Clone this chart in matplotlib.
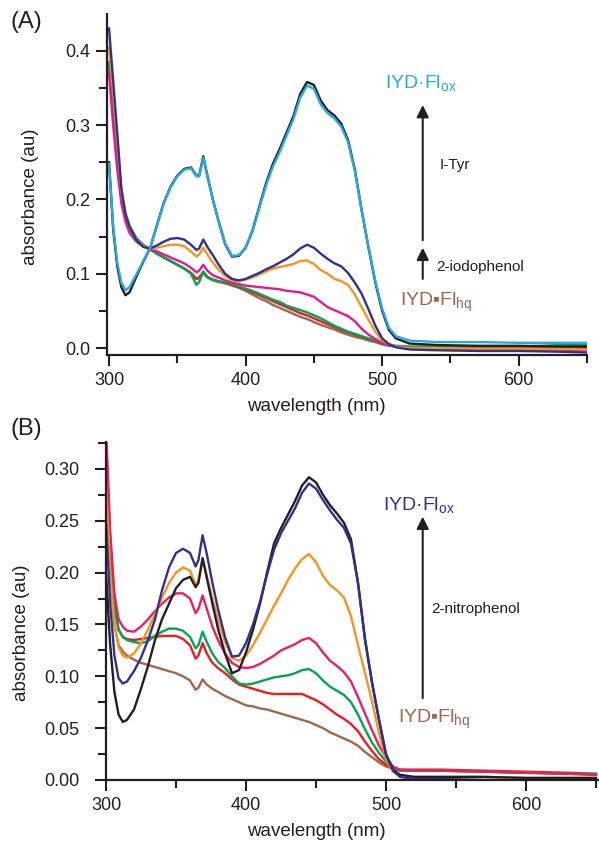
import matplotlib
matplotlib.use('Agg')
import matplotlib.pyplot as plt
from matplotlib.ticker import MultipleLocator, FormatStrFormatter

plt.rcParams['font.family'] = ['Liberation Sans', 'DejaVu Sans']
plt.rcParams['mathtext.fontset'] = 'custom'
plt.rcParams['mathtext.rm'] = 'Liberation Sans'
plt.rcParams['mathtext.default'] = 'regular'

# wavelength grid (nm) shared by both panels
wavelength = [300, 303, 306, 309, 312, 315, 320, 325, 330, 335, 340, 345, 350, 355, 360,
              364, 366, 369, 372, 376, 380, 385, 390, 395, 400, 405, 410, 415, 420, 425,
              430, 435, 440, 445, 450, 455, 460, 465, 470, 475, 480, 485, 490, 495, 500,
              505, 510, 520, 540, 570, 600, 630, 650]

# ---- panel A: 2-iodophenol then I-Tyr ----
a_brown = [0.375, 0.315, 0.255, 0.205, 0.178, 0.162, 0.146, 0.138, 0.133, 0.127, 0.122, 0.117, 0.112, 0.107, 0.101,
           0.093, 0.094, 0.101, 0.095, 0.091, 0.089, 0.087, 0.084, 0.081, 0.077, 0.072, 0.067, 0.063, 0.058, 0.054,
           0.050, 0.046, 0.042, 0.039, 0.035, 0.031, 0.028, 0.025, 0.021, 0.018, 0.015, 0.013, 0.010, 0.008, 0.005,
           0.003, 0.002, 0.001, 0.000, 0.000, 0.000, 0.000, 0.000]
a_red = [0.380, 0.320, 0.260, 0.207, 0.180, 0.163, 0.147, 0.138, 0.133, 0.127, 0.122, 0.117, 0.112, 0.107, 0.101,
         0.093, 0.095, 0.102, 0.096, 0.092, 0.090, 0.088, 0.085, 0.082, 0.079, 0.075, 0.071, 0.067, 0.063, 0.059,
         0.055, 0.051, 0.047, 0.044, 0.040, 0.036, 0.032, 0.028, 0.024, 0.021, 0.018, 0.015, 0.012, 0.009, 0.006,
         0.004, 0.002, 0.001, 0.001, 0.001, 0.000, 0.000, 0.000]
a_green = [0.385, 0.325, 0.265, 0.210, 0.182, 0.165, 0.148, 0.139, 0.133, 0.127, 0.122, 0.117, 0.112, 0.107, 0.100,
           0.085, 0.089, 0.103, 0.095, 0.092, 0.090, 0.088, 0.086, 0.083, 0.080, 0.077, 0.073, 0.069, 0.065, 0.062,
           0.057, 0.054, 0.051, 0.048, 0.044, 0.040, 0.035, 0.030, 0.026, 0.022, 0.019, 0.016, 0.013, 0.010, 0.007,
           0.005, 0.003, 0.002, 0.002, 0.002, 0.002, 0.004, 0.004]
a_magenta = [0.370, 0.300, 0.240, 0.195, 0.170, 0.155, 0.143, 0.137, 0.133, 0.130, 0.126, 0.122, 0.118, 0.114, 0.108,
             0.102, 0.104, 0.112, 0.104, 0.098, 0.095, 0.091, 0.088, 0.086, 0.084, 0.083, 0.082, 0.081, 0.080, 0.079,
             0.077, 0.076, 0.075, 0.072, 0.069, 0.062, 0.055, 0.051, 0.047, 0.043, 0.036, 0.026, 0.018, 0.012, 0.007,
             0.004, 0.002, 0.000, -0.001, -0.001, -0.002, -0.002, -0.003]
a_orange = [0.405, 0.345, 0.280, 0.212, 0.180, 0.163, 0.145, 0.137, 0.134, 0.135, 0.137, 0.139, 0.139, 0.137, 0.130,
            0.123, 0.126, 0.135, 0.126, 0.115, 0.106, 0.097, 0.091, 0.090, 0.092, 0.095, 0.099, 0.103, 0.107, 0.109,
            0.111, 0.113, 0.117, 0.118, 0.113, 0.105, 0.100, 0.093, 0.090, 0.085, 0.072, 0.055, 0.038, 0.022, 0.010,
            0.005, 0.002, 0.000, 0.000, -0.001, -0.001, -0.001, -0.002]
a_navy = [0.430, 0.360, 0.290, 0.215, 0.180, 0.163, 0.145, 0.136, 0.134, 0.138, 0.143, 0.147, 0.148, 0.146, 0.139,
          0.132, 0.134, 0.146, 0.136, 0.125, 0.113, 0.100, 0.093, 0.091, 0.093, 0.097, 0.101, 0.106, 0.110, 0.115,
          0.120, 0.126, 0.134, 0.139, 0.135, 0.127, 0.120, 0.114, 0.110, 0.101, 0.088, 0.073, 0.052, 0.030, 0.013,
          0.005, 0.001, -0.002, -0.003, -0.004, -0.004, -0.005, -0.006]
a_black = [0.250, 0.160, 0.110, 0.082, 0.071, 0.075, 0.096, 0.116, 0.134, 0.165, 0.195, 0.217, 0.232, 0.241, 0.243,
           0.232, 0.232, 0.258, 0.232, 0.200, 0.172, 0.140, 0.123, 0.124, 0.135, 0.158, 0.190, 0.222, 0.248, 0.268,
           0.290, 0.312, 0.342, 0.358, 0.354, 0.333, 0.320, 0.313, 0.302, 0.280, 0.240, 0.185, 0.135, 0.088, 0.050,
           0.024, 0.013, 0.006, 0.004, 0.003, 0.003, 0.002, 0.002]
a_blue = [0.248, 0.165, 0.115, 0.088, 0.078, 0.082, 0.099, 0.117, 0.134, 0.164, 0.194, 0.216, 0.231, 0.240, 0.242,
          0.231, 0.231, 0.256, 0.231, 0.200, 0.172, 0.141, 0.124, 0.125, 0.135, 0.157, 0.188, 0.219, 0.244, 0.264,
          0.286, 0.308, 0.337, 0.353, 0.349, 0.328, 0.316, 0.309, 0.298, 0.277, 0.238, 0.185, 0.136, 0.090, 0.053,
          0.027, 0.016, 0.010, 0.008, 0.008, 0.007, 0.007, 0.007]

# ---- panel B: 2-nitrophenol ----
b_brown = [0.300, 0.200, 0.150, 0.130, 0.124, 0.120, 0.116, 0.113, 0.111, 0.109, 0.107, 0.105, 0.103, 0.100, 0.096,
           0.087, 0.089, 0.097, 0.092, 0.088, 0.085, 0.081, 0.078, 0.075, 0.072, 0.071, 0.069, 0.068, 0.066, 0.064,
           0.062, 0.060, 0.058, 0.056, 0.053, 0.050, 0.046, 0.043, 0.040, 0.037, 0.033, 0.027, 0.022, 0.017, 0.013,
           0.011, 0.009, 0.009, 0.009, 0.008, 0.007, 0.006, 0.005]
b_red = [0.330, 0.230, 0.170, 0.145, 0.138, 0.136, 0.135, 0.136, 0.137, 0.138, 0.139, 0.139, 0.139, 0.136, 0.130,
         0.117, 0.120, 0.132, 0.122, 0.113, 0.108, 0.103, 0.097, 0.092, 0.090, 0.088, 0.086, 0.084, 0.083, 0.083,
         0.083, 0.083, 0.083, 0.080, 0.077, 0.073, 0.068, 0.063, 0.059, 0.054, 0.047, 0.037, 0.028, 0.020, 0.015,
         0.011, 0.010, 0.010, 0.010, 0.009, 0.008, 0.007, 0.006]
b_green = [0.310, 0.220, 0.165, 0.145, 0.138, 0.135, 0.133, 0.132, 0.134, 0.139, 0.143, 0.146, 0.146, 0.144, 0.138,
           0.127, 0.130, 0.143, 0.133, 0.122, 0.114, 0.108, 0.100, 0.093, 0.092, 0.093, 0.095, 0.097, 0.099, 0.100,
           0.101, 0.103, 0.106, 0.107, 0.103, 0.096, 0.090, 0.086, 0.082, 0.075, 0.063, 0.049, 0.036, 0.026, 0.018,
           0.012, 0.009, 0.009, 0.009, 0.008, 0.007, 0.006, 0.006]
b_magenta = [0.340, 0.240, 0.180, 0.155, 0.148, 0.144, 0.143, 0.148, 0.155, 0.163, 0.170, 0.176, 0.180, 0.180, 0.175,
             0.161, 0.165, 0.178, 0.165, 0.148, 0.135, 0.122, 0.113, 0.109, 0.108, 0.109, 0.112, 0.116, 0.120, 0.125,
             0.128, 0.131, 0.135, 0.137, 0.132, 0.123, 0.115, 0.110, 0.104, 0.095, 0.080, 0.064, 0.048, 0.033, 0.022,
             0.013, 0.010, 0.009, 0.009, 0.008, 0.007, 0.006, 0.005]
b_orange = [0.285, 0.200, 0.150, 0.128, 0.120, 0.118, 0.122, 0.132, 0.145, 0.160, 0.176, 0.190, 0.200, 0.205, 0.202,
            0.188, 0.193, 0.213, 0.197, 0.175, 0.155, 0.133, 0.118, 0.115, 0.120, 0.130, 0.142, 0.155, 0.168, 0.180,
            0.193, 0.204, 0.213, 0.218, 0.210, 0.197, 0.188, 0.183, 0.176, 0.158, 0.130, 0.103, 0.076, 0.045, 0.020,
            0.008, 0.004, 0.003, 0.003, 0.003, 0.002, 0.002, 0.002]
b_black = [0.200, 0.130, 0.085, 0.063, 0.056, 0.058, 0.068, 0.088, 0.110, 0.135, 0.155, 0.170, 0.185, 0.193, 0.196,
           0.186, 0.190, 0.214, 0.195, 0.170, 0.146, 0.122, 0.103, 0.106, 0.123, 0.145, 0.170, 0.200, 0.228, 0.243,
           0.256, 0.269, 0.284, 0.292, 0.287, 0.275, 0.265, 0.257, 0.248, 0.232, 0.190, 0.135, 0.094, 0.058, 0.025,
           0.010, 0.005, 0.003, 0.003, 0.003, 0.002, 0.002, 0.002]
b_navy = [0.250, 0.170, 0.120, 0.098, 0.093, 0.095, 0.105, 0.118, 0.135, 0.155, 0.183, 0.205, 0.219, 0.223, 0.219,
          0.206, 0.212, 0.236, 0.218, 0.190, 0.165, 0.138, 0.119, 0.120, 0.132, 0.150, 0.172, 0.198, 0.222, 0.238,
          0.250, 0.262, 0.277, 0.286, 0.281, 0.270, 0.260, 0.251, 0.243, 0.228, 0.190, 0.136, 0.094, 0.058, 0.024,
          0.009, 0.003, 0.001, 0.001, 0.000, 0.000, -0.001, -0.001]

c_black = '#231F20'
c_blue = '#27AAE1'
c_navy = '#2E3192'
c_orange = '#F7941D'
c_red = '#ED1C24'
c_green = '#00A651'
c_brown = '#A0674B'
c_magenta_a = '#E6198C'
c_magenta_b = '#EC1E63'

fig = plt.figure(figsize=(5.99, 8.42), dpi=100)
ax_a = fig.add_axes([107 / 599, 1 - 355 / 842, 480 / 599, 341 / 842])
ax_b = fig.add_axes([106 / 599, 1 - 780 / 842, 492 / 599, 338 / 842])

lw = 1.7
for y, c in [(a_brown, c_brown), (a_red, c_red), (a_green, c_green), (a_magenta, c_magenta_a),
             (a_orange, c_orange), (a_navy, c_navy), (a_black, c_black), (a_blue, c_blue)]:
    ax_a.plot(wavelength, y, color=c, lw=lw, solid_joinstyle='round')

for y, c in [(b_brown, c_brown), (b_red, c_red), (b_green, c_green), (b_magenta, c_magenta_b),
             (b_orange, c_orange), (b_black, c_black), (b_navy, c_navy)]:
    ax_b.plot(wavelength, y, color=c, lw=lw, solid_joinstyle='round')

ax_a.set_xlim(298.5, 650)
ax_a.set_ylim(-0.0094, 0.4495)
ax_b.set_xlim(300, 651.4)
ax_b.set_ylim(0, 0.326)

ax_a.yaxis.set_major_locator(MultipleLocator(0.1))
ax_a.yaxis.set_minor_locator(MultipleLocator(0.05))
ax_a.yaxis.set_major_formatter(FormatStrFormatter('%.1f'))
ax_b.yaxis.set_major_locator(MultipleLocator(0.05))
ax_b.yaxis.set_minor_locator(MultipleLocator(0.025))
ax_b.yaxis.set_major_formatter(FormatStrFormatter('%.2f'))

for ax in (ax_a, ax_b):
    ax.xaxis.set_major_locator(MultipleLocator(100))
    ax.xaxis.set_minor_locator(MultipleLocator(50))
    for s in ('top', 'right'):
        ax.spines[s].set_visible(False)
    for s in ('left', 'bottom'):
        ax.spines[s].set_linewidth(1.6)
        ax.spines[s].set_color(c_black)
    ax.tick_params(which='major', direction='out', length=8, width=1.5,
                   labelsize=13, colors=c_black, pad=4)
    ax.tick_params(which='minor', direction='out', length=5.5, width=1.5, colors=c_black)
    ax.set_xlabel('wavelength (nm)', fontsize=13.5, color=c_black)
    ax.set_ylabel('absorbance (au)', fontsize=13.5, color=c_black)

ax_b.tick_params(axis='y', which='major', pad=11)

ax_a.xaxis.set_label_coords(0.436, -0.126)
ax_a.xaxis.label.set_va('top')
ax_b.xaxis.set_label_coords(0.428, -0.127)
ax_b.xaxis.label.set_va('top')
ax_a.yaxis.set_label_coords(-0.142, 0.463)
ax_b.yaxis.set_label_coords(-0.154, 0.435)

# annotations panel A
ax_a.text(501.9, 0.357, 'IYD\u00b7Fl$_{ox}$', color=c_blue, fontsize=14, va='center', ha='left')
ax_a.text(512.9, 0.062, 'IYD\u25aaFl$_{hq}$', color=c_brown, fontsize=14, va='center', ha='left')
ax_a.text(542, 0.246, 'I-Tyr', color=c_black, fontsize=11, va='center', ha='left')
ax_a.text(539.7, 0.109, '2-iodophenol', color=c_black, fontsize=11, va='center', ha='left')
arrow = dict(arrowstyle='-|>', lw=1.5, color=c_black, mutation_scale=18, shrinkA=0, shrinkB=0)
ax_a.annotate('', xy=(529.7, 0.327), xytext=(529.7, 0.145), arrowprops=arrow)
ax_a.annotate('', xy=(529.7, 0.135), xytext=(529.7, 0.093), arrowprops=arrow)

# annotations panel B
ax_b.text(498, 0.265, 'IYD\u00b7Fl$_{ox}$', color=c_navy, fontsize=14, va='center', ha='left')
ax_b.text(508.8, 0.058, 'IYD\u25aaFl$_{hq}$', color=c_brown, fontsize=14, va='center', ha='left')
ax_b.text(532.6, 0.165, '2-nitrophenol', color=c_black, fontsize=11, va='center', ha='left')
ax_b.annotate('', xy=(526.2, 0.254), xytext=(526.2, 0.079), arrowprops=arrow)

fig.text(26 / 599, 1 - 22 / 842, '(A)', fontsize=17, ha='center', va='center', color=c_black)
fig.text(26 / 599, 1 - 429 / 842, '(B)', fontsize=17, ha='center', va='center', color=c_black)

fig.savefig('out.png', dpi=100)
